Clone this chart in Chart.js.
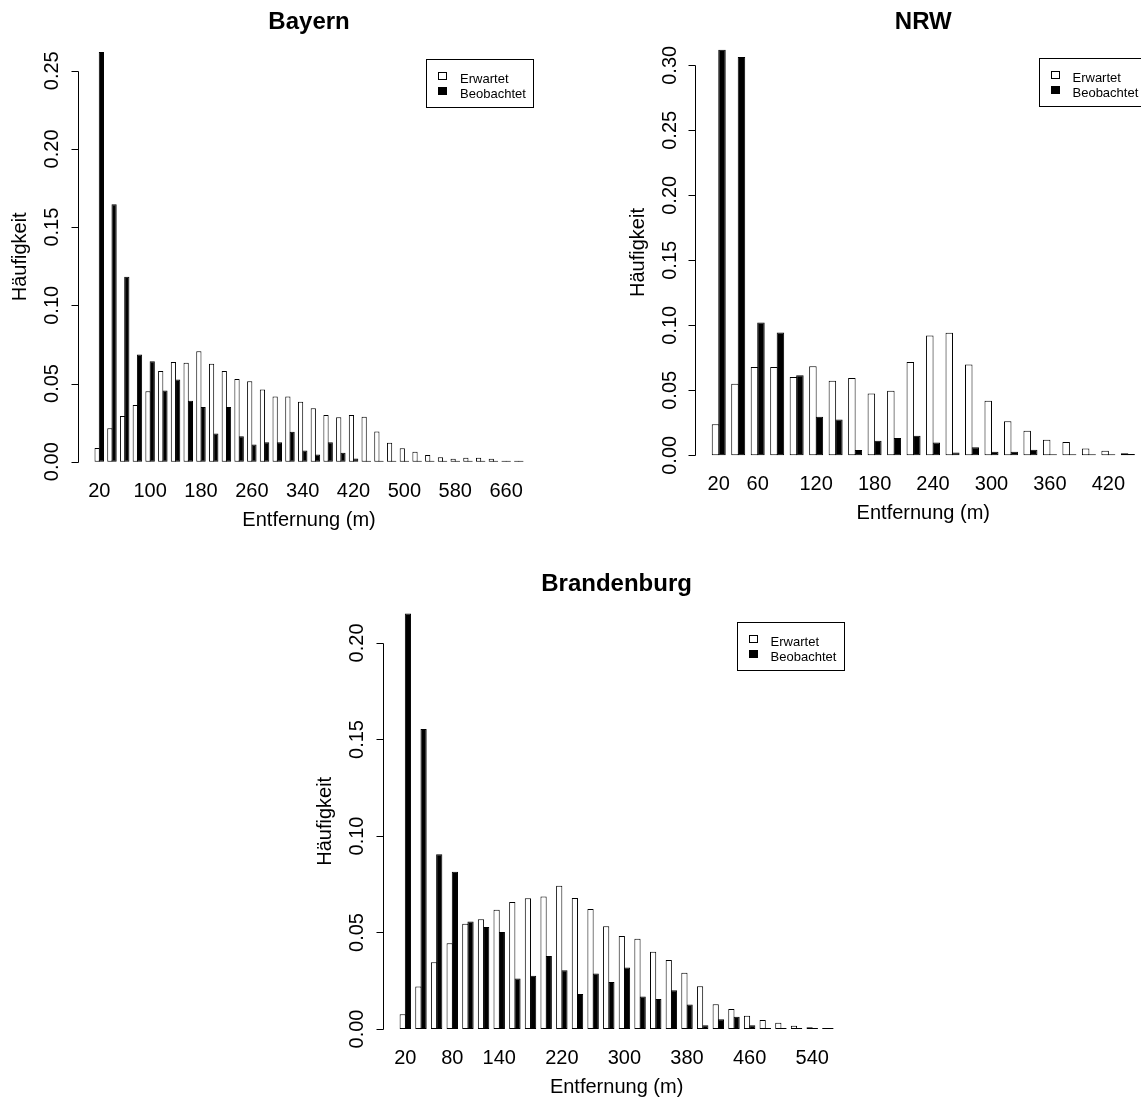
<!DOCTYPE html>
<html>
<head>
<meta charset="utf-8">
<script src="https://cdn.jsdelivr.net/npm/chart.js@4.4.0/dist/chart.umd.min.js"></script>
<style>
  html, body { margin: 0; padding: 0; background: #fff; }
  body { width: 1141px; height: 1102px; position: relative; overflow: hidden; }
  canvas { position: absolute; }
</style>
</head>
<body>
<canvas id="bayern" width="570" height="550" style="left:0;top:0;width:570px;height:550px"></canvas>
<canvas id="nrw" width="571" height="550" style="left:570px;top:0;width:571px;height:550px"></canvas>
<canvas id="brandenburg" width="580" height="542" style="left:290px;top:560px;width:580px;height:542px"></canvas>
<script>
// ---------- data ----------
const bayernDist = [20, 40, 60, 80, 100, 120, 140, 160, 180, 200, 220, 240, 260, 280, 300, 320, 340,
  360, 380, 400, 420, 440, 460, 480, 500, 520, 540, 560, 580, 600, 620, 640, 660, 680];
const bayernExpected = [0.0087, 0.0214, 0.0293, 0.0363, 0.0450, 0.0580, 0.0637, 0.0632, 0.0707, 0.0626,
  0.0580, 0.0529, 0.0514, 0.0461, 0.0417, 0.0417, 0.0384, 0.0342, 0.0298, 0.0285, 0.0298, 0.0288,
  0.0193, 0.0121, 0.0086, 0.0064, 0.0043, 0.0028, 0.0019, 0.0026, 0.0026, 0.0019, 0.0006, 0.0002];
const bayernObserved = [0.2620, 0.1646, 0.1183, 0.0685, 0.0643, 0.0456, 0.0525, 0.0390, 0.0349, 0.0180,
  0.0349, 0.0162, 0.0110, 0.0125, 0.0125, 0.0191, 0.0072, 0.0046, 0.0125, 0.0057, 0.0020, 0,
  0, 0, 0, 0, 0, 0, 0, 0, 0, 0, 0.0006, 0.0001];
const bayernShown = [20, 100, 180, 260, 340, 420, 500, 580, 660];
const bayernYTicks = [0, 0.05, 0.10, 0.15, 0.20, 0.25];

const nrwDist = [20, 40, 60, 80, 100, 120, 140, 160, 180, 200, 220, 240, 260, 280, 300, 320, 340,
  360, 380, 400, 420, 440];
const nrwExpected = [0.0238, 0.0550, 0.0680, 0.0680, 0.0603, 0.0685, 0.0573, 0.0595, 0.0475, 0.0496,
  0.0717, 0.0921, 0.0942, 0.0698, 0.0420, 0.0262, 0.0189, 0.0120, 0.0102, 0.0052, 0.0035, 0.0016];
const nrwObserved = [0.3120, 0.3063, 0.1022, 0.0945, 0.0616, 0.0297, 0.0276, 0.0040, 0.0111, 0.0133,
  0.0151, 0.0098, 0.0022, 0.0062, 0.0027, 0.0027, 0.0043, 0.0008, 0.0008, 0.0005, 0.0005, 0.0010];
const nrwShown = [20, 60, 120, 180, 240, 300, 360, 420];
const nrwYTicks = [0, 0.05, 0.10, 0.15, 0.20, 0.25, 0.30];

const brbDist = [20, 40, 60, 80, 100, 120, 140, 160, 180, 200, 220, 240, 260, 280, 300, 320, 340,
  360, 380, 400, 420, 440, 460, 480, 500, 520, 540, 560];
const brbExpected = [0.0077, 0.0220, 0.0346, 0.0444, 0.0545, 0.0568, 0.0618, 0.0658, 0.0677, 0.0686,
  0.0742, 0.0679, 0.0622, 0.0532, 0.0482, 0.0468, 0.0400, 0.0357, 0.0291, 0.0222, 0.0128, 0.0104,
  0.0069, 0.0047, 0.0033, 0.0017, 0.0009, 0.0005];
const brbObserved = [0.2152, 0.1554, 0.0905, 0.0815, 0.0557, 0.0529, 0.0502, 0.0262, 0.0276, 0.0378,
  0.0305, 0.0181, 0.0287, 0.0244, 0.0319, 0.0168, 0.0156, 0.0201, 0.0127, 0.0019, 0.0050, 0.0064,
  0.0019, 0.0003, 0.0003, 0.0003, 0.0003, 0.0003];
const brbShown = [20, 80, 140, 220, 300, 380, 460, 540];
const brbYTicks = [0, 0.05, 0.10, 0.15, 0.20];

const seriesNames = ["Erwartet", "Beobachtet"];

// ---------- R-like decorations ----------
const FONT = '"Liberation Sans", Arial, Helvetica, sans-serif';

const rDecor = {
  id: "rDecor",
  afterDraw(chart, args, o) {
    const { ctx, chartArea: ca, scales: { x, y } } = chart;
    const n = chart.data.labels.length;
    const u = (x.getPixelForValue(1) - x.getPixelForValue(0)) / 3;
    const ext = 0.04 * (3 * n - 1);          // barplot xlim padding, in bar units
    const axisX = ca.left - (ext - 0.5) * u;
    const rightX = ca.right + (ext - 0.5) * u;
    const midX = (axisX + rightX) / 2;
    const y0 = y.getPixelForValue(0);
    const dataMax = Math.max(...chart.data.datasets.flatMap((d) => d.data));

    ctx.save();
    ctx.fillStyle = "#000";
    ctx.strokeStyle = "#000";
    ctx.lineWidth = 1;

    // title
    ctx.font = "bold 24px " + FONT;
    ctx.textAlign = "center";
    ctx.textBaseline = "alphabetic";
    ctx.fillText(o.title, midX, o.titleY);

    // y axis line + ticks
    const ax = Math.round(axisX) + 0.5;
    const yTop = y.getPixelForValue(o.yTicks[o.yTicks.length - 1]);
    ctx.beginPath();
    ctx.moveTo(ax, Math.round(y0) + 0.5);
    ctx.lineTo(ax, Math.round(yTop) + 0.5);
    o.yTicks.forEach((t) => {
      const py = Math.round(y.getPixelForValue(t)) + 0.5;
      ctx.moveTo(ax, py);
      ctx.lineTo(ax - 7, py);
    });
    ctx.stroke();

    // y tick labels, rotated
    ctx.font = "20px " + FONT;
    ctx.textBaseline = "middle";
    o.yTicks.forEach((t) => {
      ctx.save();
      ctx.translate(axisX - 25, y.getPixelForValue(t));
      ctx.rotate(-Math.PI / 2);
      ctx.fillText(t.toFixed(2), 0, 0);
      ctx.restore();
    });

    // y title
    ctx.save();
    ctx.translate(axisX - 57, y.getPixelForValue(dataMax / 2));
    ctx.rotate(-Math.PI / 2);
    ctx.fillText("Häufigkeit", 0, 0);
    ctx.restore();

    // x tick labels (only the ones R kept)
    ctx.textBaseline = "alphabetic";
    chart.data.labels.forEach((lab, i) => {
      if (o.shown.includes(lab)) ctx.fillText(String(lab), x.getPixelForValue(i), y0 + 35);
    });

    // x title
    ctx.fillText("Entfernung (m)", midX, y0 + 64);

    // legend box
    const L = ca.right + 8.3 - 107.4;
    const T = o.legendTop;
    ctx.strokeRect(Math.round(L) + 0.5, Math.round(T) + 0.5, 107, 48);
    ctx.fillStyle = "#fff";
    ctx.fillRect(Math.round(L) + 12, Math.round(T) + 13, 9, 8);
    ctx.strokeRect(Math.round(L) + 12.5, Math.round(T) + 13.5, 8, 7);
    ctx.fillStyle = "#000";
    ctx.fillRect(Math.round(L) + 12, Math.round(T) + 28, 9, 8);
    ctx.font = "13px " + FONT;
    ctx.textAlign = "left";
    ctx.fillText(seriesNames[0], L + 34, T + 24);
    ctx.fillText(seriesNames[1], L + 34, T + 39);
    ctx.restore();
  },
};

function makeChart(id, labels, expected, observed, pad, yMax, decor) {
  const canvas = document.getElementById(id);
  // bar unit width; R strokes the outline outside the rect, so widen by 1px
  const unit = (canvas.width - pad.left - pad.right) / (3 * labels.length);
  const barPct = (unit + 1) / unit;
  return new Chart(canvas.getContext("2d"), {
    type: "bar",
    data: {
      labels: labels,
      datasets: [
        { label: seriesNames[0], data: expected, backgroundColor: "#fff", borderColor: "#000",
          borderWidth: 1, borderSkipped: false, minBarLength: 1, clip: false },
        { label: seriesNames[1], data: observed, backgroundColor: "#000", borderColor: "#000",
          borderWidth: 1, borderSkipped: false, minBarLength: 1, clip: false },
      ],
    },
    options: {
      responsive: false,
      animation: false,
      devicePixelRatio: 1,
      layout: { padding: pad },
      datasets: { bar: { categoryPercentage: 2 / 3, barPercentage: barPct } },
      scales: {
        x: { display: false, offset: true },
        y: { display: false, min: 0, max: yMax },
      },
      plugins: {
        legend: { display: false },
        title: { display: false },
        tooltip: { enabled: false },
        rDecor: decor,
      },
    },
    plugins: [rDecor],
  });
}

makeChart("bayern", bayernDist, bayernExpected, bayernObserved,
  { left: 92.9, right: 44.8, top: 23.8, bottom: 88.3 }, 0.28,
  { title: "Bayern", titleY: 29, yTicks: bayernYTicks, shown: bayernShown, legendTop: 59.3 });

makeChart("nrw", nrwDist, nrwExpected, nrwObserved,
  { left: 139, right: 3.4, top: 26.3, bottom: 94.7 }, 0.33,
  { title: "NRW", titleY: 29.3, yTicks: nrwYTicks, shown: nrwShown, legendTop: 58 });

makeChart("brandenburg", brbDist, brbExpected, brbObserved,
  { left: 107.5, right: 34.3, top: 15.4, bottom: 73 }, 0.235,
  { title: "Brandenburg", titleY: 31, yTicks: brbYTicks, shown: brbShown, legendTop: 62 });
</script>
</body>
</html>
